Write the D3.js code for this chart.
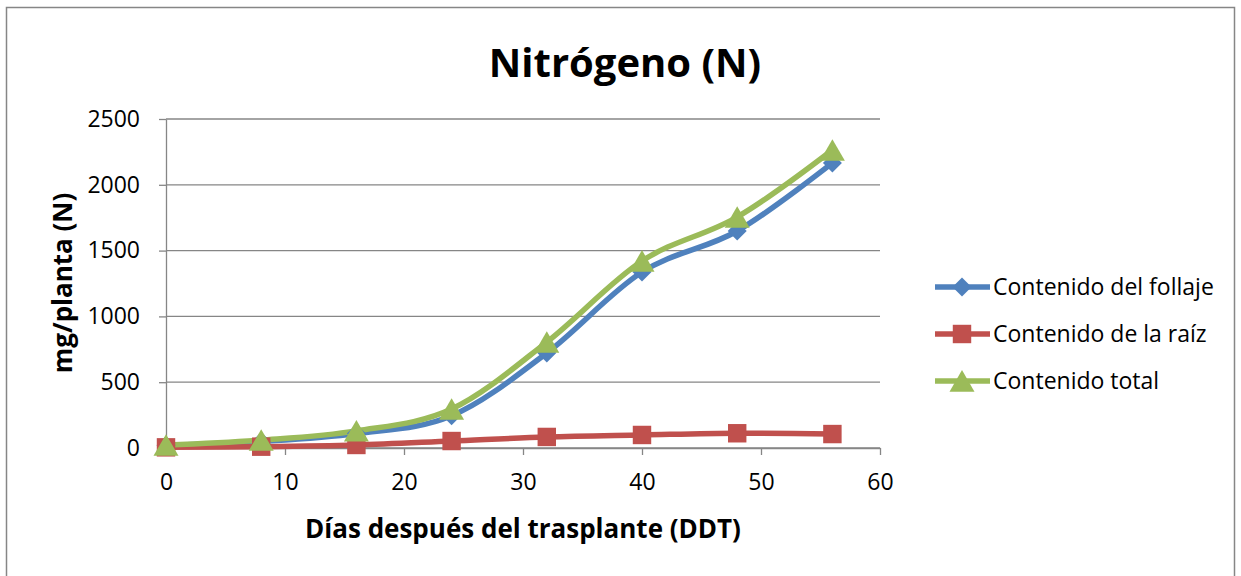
<!DOCTYPE html>
<html><head><meta charset="utf-8">
<script src="https://cdn.jsdelivr.net/npm/d3@7"></script>
<style>body{margin:0;background:#fff}svg{display:block}text{font-family:"Open Sans",sans-serif}</style>
</head><body><svg id="c" width="1241" height="576"></svg>
<script>
const days = [0, 8, 16, 24, 32, 40, 48, 56];
const follaje = [20, 50, 110, 245, 722, 1337, 1649, 2166];
const raiz = [5, 10, 23, 53, 84, 99, 112, 106];
const total = [22, 60, 130, 296, 805, 1421, 1755, 2264];
const xTicks = [0, 10, 20, 30, 40, 50, 60];
const yTicks = [0, 500, 1000, 1500, 2000, 2500];
const seriesNames = ["Contenido del follaje", "Contenido de la raíz", "Contenido total"];
const colors = ["#4F81BD", "#C0504D", "#9BBB59"];
const symbols = [d3.symbolSquare, d3.symbolSquare, d3.symbolTriangle];
const rotations = [45, 0, 0];
const sizes = [180, 340, 270];

const svg = d3.select("#c");
svg.append("rect").attr("x", 6.5).attr("y", 7.5).attr("width", 1228).attr("height", 580)
  .attr("fill", "#fff").attr("stroke", "#868686").attr("stroke-width", 1.5);

const x = d3.scaleLinear().domain([0, 60]).range([166, 880]);
const y = d3.scaleLinear().domain([0, 2500]).range([448, 119]);

svg.append("g").selectAll("line").data(yTicks).join("line")
  .attr("x1", x(0)).attr("x2", x(60)).attr("y1", d => y(d)).attr("y2", d => y(d))
  .attr("stroke", "#868686").attr("stroke-width", 1.3);

const xa = svg.append("g").attr("transform", `translate(0,${y(0)})`)
  .call(d3.axisBottom(x).tickValues(xTicks).tickFormat(d3.format("d")).tickSize(7).tickSizeOuter(0).tickPadding(19));
const ya = svg.append("g").attr("transform", `translate(${x(0)},0)`)
  .call(d3.axisLeft(y).tickValues(yTicks).tickFormat(d3.format("d")).tickSize(7).tickSizeOuter(0).tickPadding(19));
[xa, ya].forEach(a => {
  a.select(".domain").attr("stroke", "#868686").attr("stroke-width", 1.3);
  a.selectAll(".tick line").attr("stroke", "#868686").attr("stroke-width", 1.3);
  a.selectAll("text").attr("font-size", 23).attr("fill", "#000").attr("font-family", "Open Sans");
});

const all = [follaje, raiz, total];
const line = d3.line().x((d, i) => x(days[i])).y(d => y(d)).curve(d3.curveCatmullRom.alpha(0));
all.forEach((s, k) => {
  svg.append("path").attr("d", line(s)).attr("fill", "none").attr("stroke", colors[k]).attr("stroke-width", 5.5);
});
const dys = [0, 0, 3.5];
all.forEach((s, k) => {
  svg.append("g").selectAll("path").data(s).join("path")
    .attr("transform", (d, i) => `translate(${x(days[i])},${y(d) + dys[k]}) rotate(${rotations[k]})`)
    .attr("d", d3.symbol().type(symbols[k]).size(sizes[k])).attr("fill", colors[k]);
});

const ly = [287, 334, 381];
seriesNames.forEach((n, k) => {
  const g = svg.append("g").attr("transform", `translate(0,${ly[k]})`);
  g.append("line").attr("x1", 935).attr("x2", 990).attr("stroke", colors[k]).attr("stroke-width", 5.5);
  g.append("path").attr("transform", `translate(962,${dys[k]}) rotate(${rotations[k]})`)
    .attr("d", d3.symbol().type(symbols[k]).size(sizes[k])).attr("fill", colors[k]);
  g.append("text").attr("x", 993).attr("y", 8).attr("font-size", 23).text(n);
});

svg.append("text").attr("x", 625).attr("y", 77).attr("text-anchor", "middle")
  .attr("font-size", 40).attr("font-weight", "bold").text("Nitrógeno (N)");
svg.append("text").attr("x", 523).attr("y", 538).attr("text-anchor", "middle")
  .attr("font-size", 26).attr("font-weight", "bold").text("Días después del trasplante (DDT)");
svg.append("text").attr("transform", "translate(72,283) rotate(-90)").attr("text-anchor", "middle")
  .attr("font-size", 26).attr("font-weight", "bold").text("mg/planta (N)");
</script></body></html>
